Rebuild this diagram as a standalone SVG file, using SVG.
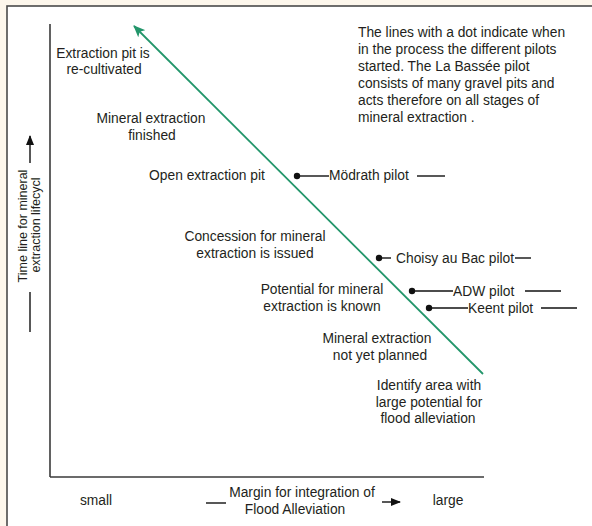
<svg xmlns="http://www.w3.org/2000/svg" width="592" height="526" viewBox="0 0 592 526">
<style>
  text { font-family: "Liberation Sans", Arial, sans-serif; font-size: 13.8px; fill: #231f20; }
  .mid { text-anchor: middle; }
  .ylab { font-size: 12.5px; text-anchor: middle; }
  .axis { stroke: #3a3a3a; stroke-width: 1.6; fill: none; }
  .tick { stroke: #111; stroke-width: 1.4; fill: none; }
  .flow { stroke: #23966b; stroke-width: 1.8; fill: none; }
  .dot { fill: #111; }
</style>
<defs>
  <marker id="greenHead" markerWidth="12" markerHeight="10" refX="11" refY="5" orient="auto" markerUnits="userSpaceOnUse">
    <path d="M0,0 L12,5 L0,10 L3,5 Z" fill="#23966b"/>
  </marker>
  <marker id="blackHead" markerWidth="10" markerHeight="8" refX="9" refY="4" orient="auto" markerUnits="userSpaceOnUse">
    <path d="M0,0 L10,4 L0,8 Z" fill="#111"/>
  </marker>
</defs>
<rect x="0" y="0" width="592" height="526" fill="#fdf7ec"/>
<rect x="7" y="6" width="600" height="540" fill="#ffffff" stroke="#4a4a4a" stroke-width="1.6"/>

<g id="axes">
  <line class="axis" x1="50" y1="24" x2="50" y2="477"/>
  <line class="axis" x1="50" y1="477" x2="484" y2="477"/>
</g>

<g id="y-axis-label">
  <line class="tick" x1="30" y1="163" x2="30" y2="136" marker-end="url(#blackHead)"/>
  <text class="ylab" transform="translate(27,226) rotate(-90)">Time line for mineral</text>
  <text class="ylab" transform="translate(40,225) rotate(-90)">extraction lifecycl</text>
  <line class="tick" x1="30" y1="292" x2="30" y2="332"/>
</g>

<g id="x-axis-label">
  <text x="96" y="505" class="mid">small</text>
  <line class="tick" x1="206" y1="503" x2="226" y2="503"/>
  <text x="302" y="497" class="mid">Margin for integration of</text>
  <text x="295" y="514" class="mid">Flood Alleviation</text>
  <line class="tick" x1="382" y1="502" x2="400" y2="502" marker-end="url(#blackHead)"/>
  <text x="448" y="505" class="mid">large</text>
</g>

<g id="connectors">
  <line class="flow" x1="483" y1="374" x2="134" y2="26" marker-end="url(#greenHead)"/>
</g>

<g id="stage-recultivated">
  <text class="mid" x="103" y="58">Extraction pit is</text>
  <text class="mid" x="104" y="74">re-cultivated</text>
</g>
<g id="stage-finished">
  <text class="mid" x="151" y="123">Mineral extraction</text>
  <text class="mid" x="152" y="140">finished</text>
</g>
<g id="stage-open-pit">
  <text class="mid" x="207" y="180">Open extraction pit</text>
</g>
<g id="stage-concession">
  <text class="mid" x="255" y="241">Concession for mineral</text>
  <text class="mid" x="255" y="258">extraction is issued</text>
</g>
<g id="stage-potential">
  <text class="mid" x="322" y="294">Potential for mineral</text>
  <text class="mid" x="322" y="311">extraction is known</text>
</g>
<g id="stage-not-planned">
  <text class="mid" x="377" y="343">Mineral extraction</text>
  <text class="mid" x="380" y="360">not yet planned</text>
</g>
<g id="stage-identify">
  <text class="mid" x="429" y="390">Identify area with</text>
  <text class="mid" x="429" y="407">large potential for</text>
  <text class="mid" x="428" y="423">flood alleviation</text>
</g>

<g id="note">
  <text x="358" y="37">The lines with a dot indicate when</text>
  <text x="358" y="54">in the process the different pilots</text>
  <text x="358" y="71">started. The La Bassée pilot</text>
  <text x="358" y="88">consists of many gravel pits and</text>
  <text x="358" y="105">acts therefore on all stages of</text>
  <text x="358" y="122">mineral extraction  .</text>
</g>

<g id="pilot-modrath">
  <circle class="dot" cx="297" cy="176" r="3.2"/>
  <line class="tick" x1="297" y1="176" x2="329" y2="176"/>
  <text x="329" y="180">Mödrath pilot</text>
  <line class="tick" x1="417" y1="176" x2="445" y2="176"/>
</g>
<g id="pilot-choisy">
  <circle class="dot" cx="379" cy="258" r="3.2"/>
  <line class="tick" x1="379" y1="258" x2="391" y2="258"/>
  <text x="396" y="263">Choisy au Bac pilot</text>
  <line class="tick" x1="515" y1="258" x2="531" y2="258"/>
</g>
<g id="pilot-adw">
  <circle class="dot" cx="412" cy="291" r="3.2"/>
  <line class="tick" x1="412" y1="291" x2="453" y2="291"/>
  <text x="453" y="296">ADW pilot</text>
  <line class="tick" x1="525" y1="291" x2="561" y2="291"/>
</g>
<g id="pilot-keent">
  <circle class="dot" cx="429" cy="308" r="3.2"/>
  <line class="tick" x1="429" y1="308" x2="468" y2="308"/>
  <text x="468" y="313">Keent pilot</text>
  <line class="tick" x1="541" y1="308" x2="577" y2="308"/>
</g>
</svg>
